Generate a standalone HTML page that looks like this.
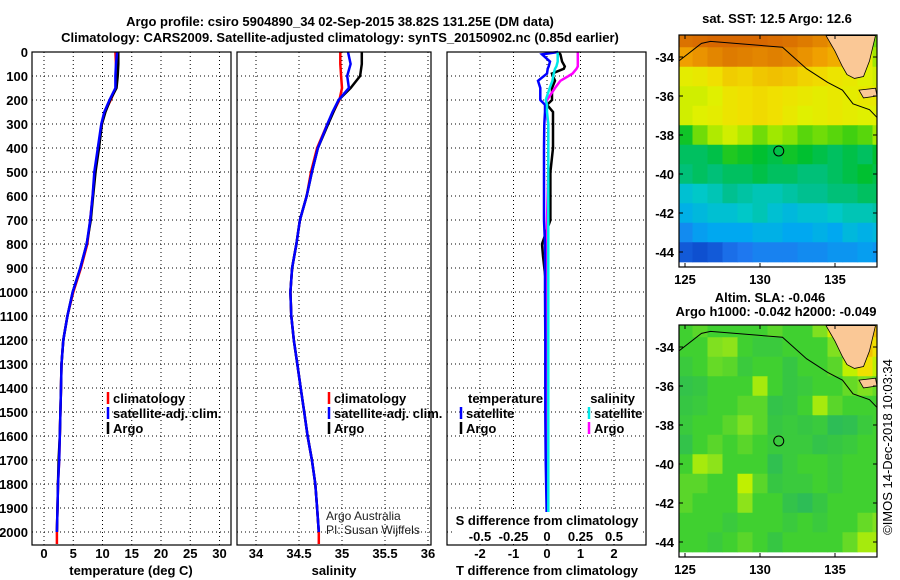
<!DOCTYPE html>
<html><head><meta charset="utf-8"><style>
body{margin:0;background:#fff}
svg{display:block;font-family:"Liberation Sans",Arial,sans-serif}
text{font-weight:bold;font-size:13px}
</style></head><body>
<svg id="c" width="900" height="580" viewBox="0 0 900 580"></svg>
<script>
// ---- data ----
const depths=[0,50,100,150,200,250,300,400,500,600,700,800,900,1000,1100,1200,1300,1400,1500,1600,1700,1800,1900,2000,2050];
const tArgo=[12.7,12.7,12.6,12.4,11.3,10.5,9.9,9.4,8.8,8.4,8.0,7.3,6.2,4.9,4.0,3.3,3.0,2.9,2.8,2.7,2.5,2.4,2.3,2.2,2.2];
const tClim=[12.2,12.3,12.4,12.3,11.4,10.4,9.9,9.3,8.7,8.3,7.9,7.4,6.3,5.0,4.0,3.3,3.0,2.9,2.8,2.7,2.6,2.4,2.3,2.2,2.2];
const tSat=[12.5,12.3,12.2,12.2,11.2,10.3,9.8,9.2,8.6,8.3,7.9,7.3,6.2,4.9,4.0,3.3,3.0,2.9,2.8,2.7,2.6,2.4,2.3,2.2,2.2];
const sArgo=[35.23,35.23,35.21,35.1,34.96,34.9,34.84,34.72,34.65,34.59,34.51,34.47,34.42,34.4,34.41,34.44,34.48,34.52,34.56,34.6,34.65,34.69,34.71,34.73,34.73];
const sClim=[34.98,34.98,34.99,35.0,34.97,34.9,34.83,34.71,34.64,34.59,34.51,34.47,34.42,34.4,34.41,34.44,34.48,34.52,34.56,34.6,34.65,34.69,34.71,34.73,34.73];
const sSat=[35.07,35.1,35.06,35.08,34.96,34.89,34.83,34.72,34.65,34.59,34.51,34.47,34.42,34.4,34.41,34.44,34.48,34.52,34.56,34.6,34.65,34.69,34.71,34.73,34.73];
const dDepths=[0,10,40,60,70,90,120,150,200,220,250,300,400,500,700,800,850,1000,1200,1500,1700,2000];
const dTSat=[0.33,-0.15,0.09,0.05,0.02,0,-0.27,-0.2,-0.2,-0.06,-0.06,-0.08,-0.09,-0.09,-0.09,-0.06,-0.06,-0.06,-0.05,-0.05,-0.04,0];
const dTArgo=[0.33,0.4,0.45,0.53,0.5,0.15,0.24,0.15,0.15,0,0.18,0.18,0.18,0.1,0.1,-0.15,-0.12,0,0,0,0,0];
const dSSat=[0.08,0.08,0.08,0.07,0.06,0.05,0.04,0.02,-0.01,0,0.0,0.01,0.01,0.01,0.01,0.01,0.01,0.01,0.01,0.01,0.01,0.01];
const dSArgo=[0.23,0.23,0.23,0.23,0.22,0.19,0.1,0.06,0.0,-0.01,-0.01,0.01,0.01,0.01,0.0,0.0,0.0,0.0,0.0,0.0,0,0];
const depthTicks=[0,100,200,300,400,500,600,700,800,900,1000,1100,1200,1300,1400,1500,1600,1700,1800,1900,2000];
const tTicks=[0,5,10,15,20,25,30];
const sTicks=[34,34.5,35,35.5,36];
const dTTicks=[-2,-1,0,1,2];
const dSTicks=[-0.5,-0.25,0,0.25,0.5];
const dSTickLabels=['-0.5','-0.25','0','0.25','0.5'];
const mapLons=[125,126,127,128,129,130,131,132,133,134,135,136,137,138];
const mapLats=[-33,-34,-35,-36,-37,-38,-39,-40,-41,-42,-43,-44];
const lonTicks=[125,130,135];
const latTicks=[-34,-36,-38,-40,-42,-44];
const sst=[
[15.8,15.9,16.0,16.0,16.0,16.0,15.9,15.8,15.6,15.4,15.2,15.0,13.5,13.0],
[15.0,15.2,15.4,15.6,15.5,15.4,15.5,15.4,15.2,15.0,14.8,14.5,13.8,13.2],
[13.7,13.8,14.0,14.3,14.2,14.4,14.5,14.4,14.2,14.1,13.9,13.8,13.6,13.5],
[13.5,13.5,13.6,13.9,14.0,14.1,14.0,13.9,13.8,13.7,13.8,13.7,13.8,13.8],
[13.5,13.6,13.7,13.9,14.0,14.1,14.0,13.8,13.6,13.7,13.8,13.7,13.6,13.6],
[12.5,13.0,13.3,13.5,13.3,13.0,13.2,13.1,12.9,13.0,12.9,12.8,12.9,13.2],
[12.2,12.2,12.3,12.6,12.5,12.4,12.3,12.5,12.4,12.3,12.2,12.3,12.2,12.4],
[12.1,12.2,12.1,12.2,12.2,12.3,12.2,12.2,12.1,12.1,12.2,12.3,12.4,12.3],
[11.6,11.7,11.8,12.0,11.9,11.8,11.8,11.9,12.0,12.0,12.1,12.1,12.2,12.2],
[11.4,11.5,11.6,11.6,11.7,11.8,11.6,11.5,11.6,11.6,11.7,11.8,11.8,11.9],
[11.0,11.2,11.3,11.3,11.3,11.4,11.4,11.3,11.3,11.4,11.3,11.5,11.4,11.5],
[10.5,10.4,10.5,10.7,10.8,10.9,10.9,10.9,11.0,11.0,11.1,11.1,11.2,11.1]];
const sla=[
[0,0.02,0,0,0,0,0.02,0,0,0.05,0.12,0.18,0.2,0.2],
[0,0,0.05,0.06,0,-0.02,-0.02,0,0,0,0.05,0.15,0.2,0.15],
[-0.02,0,0.03,0.02,-0.02,0,0,-0.03,0,0,0.02,0.1,0.15,0.1],
[-0.04,-0.03,0,0,0,0.08,0,-0.03,-0.02,0,0,0.03,0.05,0.03],
[-0.03,-0.02,0,0,0.02,0.02,-0.04,-0.03,0,0.08,0.02,0,0,0],
[-0.02,0,0,0.02,0.05,0.02,-0.03,-0.02,-0.03,-0.02,-0.06,-0.05,-0.02,0],
[-0.04,0,0.02,0,0.02,0,-0.02,-0.02,-0.02,-0.04,-0.03,-0.02,0,0],
[0,0.08,0.06,0,0,0,-0.05,-0.02,0,0,-0.02,0,0,0],
[0.02,0.02,0,0,0.1,0.02,-0.03,-0.02,-0.02,0,-0.02,0,0,0],
[0.02,0,0,0,0.06,0,0,-0.04,-0.06,-0.03,0,0,0,0],
[0,0,0,-0.02,0,0,0,-0.02,0,-0.02,0,0,0.03,0.05],
[0,0,-0.02,0,0.02,0,-0.03,0,0,0,0,0.03,0.08,0.08]];
const landLon=[134.4,137.7,137.3,136.9,136.3,135.8,135.5,135.0];
const landLat=[-32.9,-32.9,-34.2,-35.0,-35.1,-34.9,-34.5,-33.7];
const kiLon=[136.6,137.7,137.8,136.9];
const kiLat=[-35.7,-35.6,-36.0,-36.1];
const shelfLon=[124.6,126.1,126.7,131.5,133.1,134.5,135.5,136.2,137.3,137.8];
const shelfLat=[-34.2,-33.3,-33.2,-33.5,-34.6,-35.3,-35.7,-36.4,-36.7,-37.1];
const floatLon=131.25, floatLat=-38.82;

// ---- helpers ----
const NS='http://www.w3.org/2000/svg';
const svg=document.getElementById('c');
function mk(tag,attrs,parent){const e=document.createElementNS(NS,tag);for(const k in attrs)e.setAttribute(k,attrs[k]);(parent||svg).appendChild(e);return e;}
function txt(x,y,s,anchor,extra){const e=mk('text',Object.assign({x:x,y:y,'text-anchor':anchor||'middle'},extra||{}));e.textContent=s;return e;}
const yD=d=>52+d*0.24;
const P1={l:32,r:231,x:v=>44+v*5.85};
const P2={l:237,r:431,x:v=>256+(v-34)*86};
const P3={l:447,r:646,x:v=>547+v*33.5};
const xS=v=>547+v*134;
const plotTop=52,plotBot=545;

function panel(P,xt,name){
  const g=mk('g',{});
  
  
  depthTicks.forEach(d=>mk('line',{x1:P.l,x2:P.r,y1:yD(d),y2:yD(d),stroke:'#000','stroke-width':1,'stroke-dasharray':'1,3'},g));
  xt.forEach(v=>mk('line',{x1:P.x(v),x2:P.x(v),y1:plotTop,y2:plotBot,stroke:'#000','stroke-width':1,'stroke-dasharray':'1,3'},g));
  xt.forEach(v=>{const t=txt(P.x(v),558,String(v));});
  return g;
}
function line(xs,ds,xf,yf,col,name,w){
  const pts=xs.map((v,i)=>xf(v).toFixed(1)+','+yf(ds[i]).toFixed(1)).join(' ');
  const e=mk('polyline',{points:pts,fill:'none',stroke:col,'stroke-width':w||2.5});
  
  
}
function frame(P){mk('rect',{x:P.l,y:plotTop,width:P.r-P.l,height:plotBot-plotTop,fill:'none',stroke:'#000','stroke-width':1.2});}

let t=txt(340,26,'Argo profile: csiro 5904890_34 02-Sep-2015 38.82S 131.25E (DM data)','middle',{'font-size':'14'});

t=txt(340,42,'Climatology: CARS2009. Satellite-adjusted climatology: synTS_20150902.nc (0.85d earlier)','middle',{'font-size':'14'});


depthTicks.forEach(d=>{const e=txt(28,yD(d)+5,String(d),'end');});

panel(P1,tTicks,'temperature-panel');
line(tClim,depths,P1.x,yD,'#ff0000','temp-climatology-line');
line(tArgo.slice(0,24),depths.slice(0,24),P1.x,yD,'#000','temp-argo-line');
line(tSat.slice(0,24),depths.slice(0,24),P1.x,yD,'#0000ff','temp-satellite-line');
frame(P1);
t=txt(131,575,'temperature (deg C)');

panel(P2,sTicks,'salinity-panel');
line(sClim,depths,P2.x,yD,'#ff0000','sal-climatology-line');
line(sArgo.slice(0,24),depths.slice(0,24),P2.x,yD,'#000','sal-argo-line');
line(sSat.slice(0,24),depths.slice(0,24),P2.x,yD,'#0000ff','sal-satellite-line');
frame(P2);
t=txt(334,575,'salinity');
t=txt(326,520,'Argo Australia','start',{style:'font-weight:normal;font-size:12px',fill:'#222'});
t=txt(326,534,'PI: Susan Wijffels','start',{style:'font-weight:normal;font-size:12px',fill:'#222'});

panel(P3,dTTicks,'difference-panel');
line(dTArgo,dDepths,P3.x,yD,'#000','tdiff-argo-line');
line(dSArgo,dDepths,xS,yD,'#ff00ff','sdiff-argo-line');
line(dTSat,dDepths,P3.x,yD,'#0000ff','tdiff-satellite-line');
line(dSSat,dDepths,xS,yD,'#00e8e8','sdiff-satellite-line');
frame(P3);
mk('rect',{x:455,y:512,width:186,height:30,fill:'#fff'});
t=txt(547,525,'S difference from climatology');
dSTicks.forEach((v,i)=>{const e=txt(xS(v),541,dSTickLabels[i]);});
t=txt(547,575,'T difference from climatology');

function legItem(x,y,col,label,name){
  const g=mk('g',{});
  
  
  mk('line',{x1:x,x2:x,y1:y-11,y2:y+1,stroke:col,'stroke-width':2.5},g);
  const e=document.createElementNS(NS,'text');e.setAttribute('x',x+5);e.setAttribute('y',y);e.textContent=label;g.appendChild(e);
}
legItem(108,403,'#ff0000','climatology','legend-temp-climatology');
legItem(108,418,'#0000ff','satellite-adj. clim.','legend-temp-satellite');
legItem(108,433,'#000','Argo','legend-temp-argo');
legItem(329,403,'#ff0000','climatology','legend-sal-climatology');
legItem(329,418,'#0000ff','satellite-adj. clim.','legend-sal-satellite');
legItem(329,433,'#000','Argo','legend-sal-argo');
t=txt(468,403,'temperature','start');
legItem(461,418,'#0000ff','satellite','legend-tdiff-satellite');
legItem(461,433,'#000','Argo','legend-tdiff-argo');
t=txt(635,403,'salinity','end');
legItem(589,418,'#00e8e8','satellite','legend-sdiff-satellite');
legItem(589,433,'#ff00ff','Argo','legend-sdiff-argo');

function col(stops,v){
  let c;
  if(v<=stops[0][0])c=stops[0][1];
  else if(v>=stops[stops.length-1][0])c=stops[stops.length-1][1];
  else{for(let i=1;i<stops.length;i++){if(v<=stops[i][0]){const a=stops[i-1],b=stops[i],f=(v-a[0])/(b[0]-a[0]);
    c=[0,1,2].map(k=>Math.round(a[1][k]+(b[1][k]-a[1][k])*f));break;}}}
  return 'rgb('+c.join(',')+')';
}
const sstStops=[[10.3,[10,70,200]],[10.8,[30,120,240]],[11.3,[0,168,240]],[11.7,[0,200,200]],[12.0,[0,192,144]],[12.4,[0,192,48]],[12.8,[64,208,16]],[13.2,[160,232,0]],[13.6,[224,240,0]],[14.0,[240,224,0]],[14.5,[240,192,0]],[15.0,[240,160,0]],[15.5,[224,128,0]],[16.0,[216,104,0]]];
const slaStops=[[-0.1,[32,176,112]],[-0.05,[48,192,80]],[0,[64,208,48]],[0.05,[128,224,32]],[0.1,[192,240,0]],[0.15,[240,224,0]],[0.2,[240,192,0]]];

function drawMap(M,vals,stops,name,id){
  const mx=lon=>685+(lon-125)*15;
  const my=lat=>M.y34+(-34-lat)*19.5;
  const g=mk('g',{});
  
  
  const cp=mk('clipPath',{id:id},g);
  mk('rect',{x:679,y:M.t,width:198,height:M.b-M.t},cp);
  const cg=mk('g',{'clip-path':'url(#'+id+')'},g);
  mapLats.forEach((lat,i)=>mapLons.forEach((lon,j)=>{
    const r=mk('rect',{x:mx(lon-0.5),y:my(lat+0.5),width:15.6,height:20.1,fill:col(stops,vals[i][j])},cg);
    
    
  }));
  const land=mk('polygon',{points:landLon.map((l,i)=>mx(l)+','+my(landLat[i])).join(' '),fill:'#fac896',stroke:'#000','stroke-width':0.8},cg);
  
  const ki=mk('polygon',{points:kiLon.map((l,i)=>mx(l)+','+my(kiLat[i])).join(' '),fill:'#fac896',stroke:'#000','stroke-width':0.8},cg);
  
  const sh=mk('polyline',{points:shelfLon.map((l,i)=>mx(l)+','+my(shelfLat[i])).join(' '),fill:'none',stroke:'#000','stroke-width':1},cg);
  
  const c=mk('circle',{cx:mx(floatLon),cy:my(floatLat),r:5,fill:'none',stroke:'#000','stroke-width':1},g);
  
  mk('rect',{x:679,y:M.t,width:198,height:M.b-M.t,fill:'none',stroke:'#000','stroke-width':1.2},g);
  lonTicks.forEach(l=>{mk('line',{x1:mx(l),x2:mx(l),y1:M.b,y2:M.b-4,stroke:'#000'},g);mk('line',{x1:mx(l),x2:mx(l),y1:M.t,y2:M.t+4,stroke:'#000'},g);
    const e=txt(mx(l),M.b+17,String(l));});
  latTicks.forEach(l=>{mk('line',{x1:679,x2:683,y1:my(l),y2:my(l),stroke:'#000'},g);mk('line',{x1:873,x2:877,y1:my(l),y2:my(l),stroke:'#000'},g);
    const e=txt(674,my(l)+5,String(l),'end');});
}
drawMap({t:35,b:267,y34:57},sst,sstStops,'sst-map','clipA');
drawMap({t:325,b:557,y34:347},sla,slaStops,'sla-map','clipB');
t=txt(777,23,'sat. SST: 12.5 Argo: 12.6');
t=txt(770,302,'Altim. SLA: -0.046');
t=txt(776,316,'Argo h1000: -0.042 h2000: -0.049');
t=txt(0,0,'©IMOS 14-Dec-2018 10:03:34','middle',{style:'font-weight:normal;font-size:13px',transform:'translate(892,447) rotate(-90)'});

</script>
</body></html>
